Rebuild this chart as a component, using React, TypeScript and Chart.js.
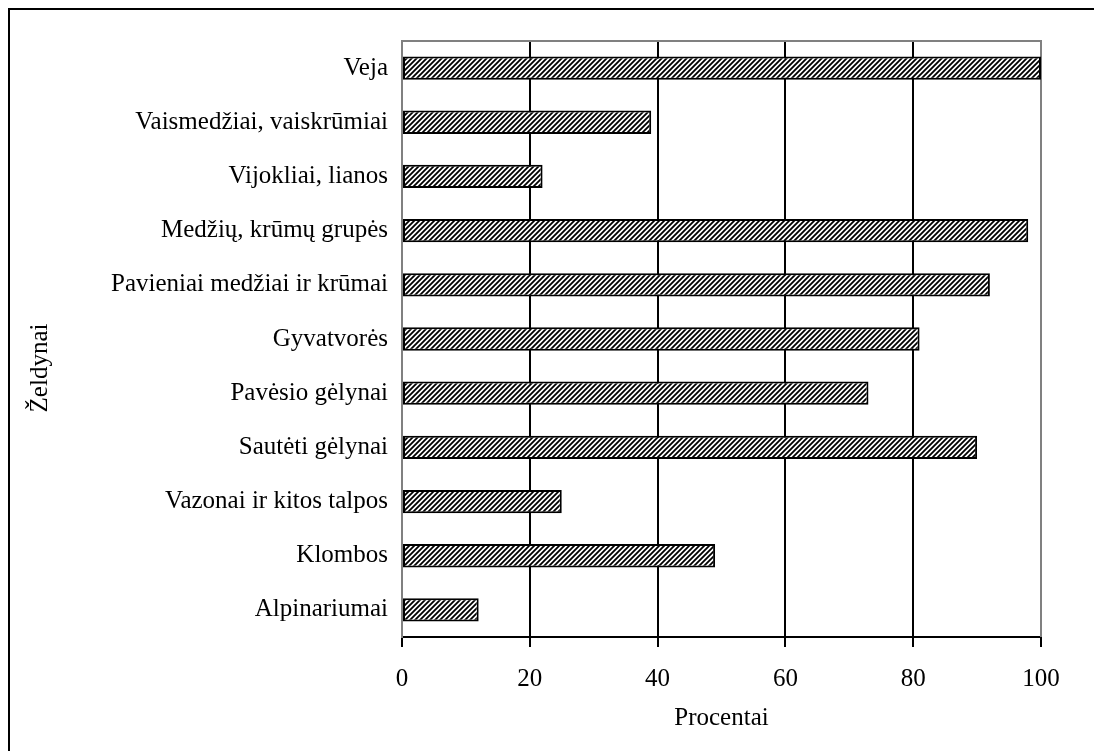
import React, { useEffect, useRef } from "react";
import { Chart, registerables } from "chart.js";

Chart.register(...registerables);

const categories = [
  "Veja",
  "Vaismedžiai, vaiskrūmiai",
  "Vijokliai, lianos",
  "Medžių, krūmų grupės",
  "Pavieniai medžiai ir krūmai",
  "Gyvatvorės",
  "Pavėsio gėlynai",
  "Sautėti gėlynai",
  "Vazonai ir kitos talpos",
  "Klombos",
  "Alpinariumai",
];
const values = [100, 39, 22, 98, 92, 81, 73, 90, 25, 49, 12];
const xTitle = "Procentai";
const yTitle = "Želdynai";
const xMin = 0;
const xMax = 100;
const xStep = 20;

const FONT = "'Liberation Serif', 'Times New Roman', serif";
const FS = 25;

function makePattern(): CanvasPattern | string {
  const c = document.createElement("canvas");
  c.width = 5;
  c.height = 5;
  const g = c.getContext("2d");
  if (!g) return "#777";
  g.fillStyle = "#fff";
  g.fillRect(0, 0, 5, 5);
  g.strokeStyle = "#000";
  g.lineWidth = 1.8;
  g.beginPath();
  g.moveTo(-1, 6);
  g.lineTo(6, -1);
  g.moveTo(-1, 1);
  g.lineTo(1, -1);
  g.moveTo(4, 6);
  g.lineTo(6, 4);
  g.stroke();
  const p = g.createPattern(c, "repeat");
  return p || "#777";
}

const frameTitlePlugin = {
  id: "frameTitle",
  beforeDatasetsDraw(chart: any) {
    const { ctx, chartArea } = chart;
    ctx.save();
    ctx.strokeStyle = "#808080";
    ctx.lineWidth = 2;
    ctx.beginPath();
    ctx.moveTo(chartArea.left, chartArea.bottom);
    ctx.lineTo(chartArea.left, chartArea.top);
    ctx.lineTo(chartArea.right, chartArea.top);
    ctx.lineTo(chartArea.right, chartArea.bottom);
    ctx.stroke();
    ctx.restore();
  },
  afterDraw(chart: any) {
    const { ctx, chartArea } = chart;
    ctx.save();
    ctx.translate(30, (chartArea.top + chartArea.bottom) / 2 + 29);
    ctx.rotate(-Math.PI / 2);
    ctx.font = `${FS}px ${FONT}`;
    ctx.fillStyle = "#000";
    ctx.textAlign = "center";
    ctx.textBaseline = "middle";
    ctx.fillText(yTitle, 0, 0);
    ctx.restore();
  },
};

export default function App() {
  const ref = useRef<HTMLCanvasElement>(null);
  useEffect(() => {
    if (!ref.current) return;
    const pattern = makePattern();
    const chart = new Chart(ref.current, {
      type: "bar",
      data: {
        labels: categories,
        datasets: [
          {
            data: values,
            backgroundColor: pattern as any,
            borderColor: "#000",
            borderWidth: 2,
            borderSkipped: false,
            barPercentage: 0.43,
            categoryPercentage: 1,
          },
        ],
      },
      options: {
        indexAxis: "y",
        responsive: false,
        animation: false,
        layout: { padding: { top: 31, right: 53, left: 0, bottom: 17 } },
        plugins: { legend: { display: false }, tooltip: { enabled: false } },
        scales: {
          x: {
            min: xMin,
            max: xMax,
            afterFit: (s: any) => {
              s.height = 97;
            },
            ticks: {
              stepSize: xStep,
              color: "#000",
              font: { family: FONT, size: FS },
              padding: 17,
              maxRotation: 0,
            },
            grid: {
              color: (c: any) =>
                c.tick && (c.tick.value === xMin || c.tick.value === xMax) ? "#808080" : "#000",
              lineWidth: 2,
              tickColor: "#000",
              tickLength: 10,
            },
            border: { color: "#000", width: 2 },
            title: {
              display: true,
              text: xTitle,
              color: "#000",
              font: { family: FONT, size: FS },
              padding: { top: 4, bottom: 1 },
            },
          },
          y: {
            afterFit: (s: any) => {
              s.width = 392;
            },
            ticks: {
              color: "#000",
              font: { family: FONT, size: FS },
              padding: 14,
              autoSkip: false,
            },
            grid: { display: false, drawTicks: false },
            border: { color: "#808080", width: 2 },
          },
        },
      },
      plugins: [frameTitlePlugin],
    });
    return () => chart.destroy();
  }, []);
  return (
    <div style={{ position: "fixed", left: 8, top: 8, width: 1086, height: 743, overflow: "hidden" }}>
      <div style={{ border: "2px solid #000", width: 1100, height: 760, boxSizing: "content-box" }}>
        <canvas ref={ref} width={1084} height={741} style={{ display: "block" }} />
      </div>
    </div>
  );
}
